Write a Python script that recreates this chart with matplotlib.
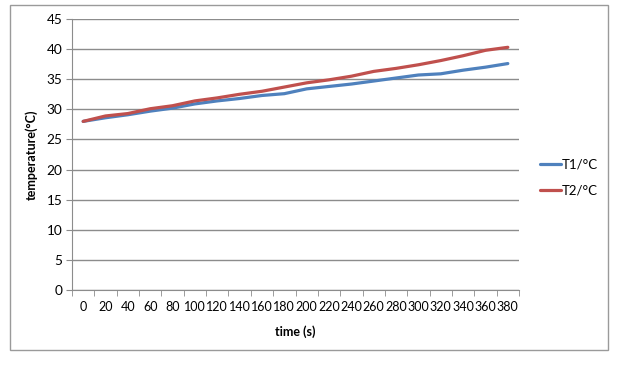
import matplotlib
matplotlib.use("Agg")
import matplotlib.pyplot as plt
import numpy as np
from matplotlib.patches import Rectangle

# data
time_s = [0, 20, 40, 60, 80, 100, 120, 140, 160, 180,
          200, 220, 240, 260, 280, 300, 320, 340, 360, 380]
t1 = [28.0, 28.6, 29.1, 29.7, 30.2, 30.9, 31.4, 31.8, 32.3, 32.6,
      33.4, 33.8, 34.2, 34.7, 35.2, 35.7, 35.9, 36.5, 37.0, 37.6]
t2 = [28.0, 28.9, 29.3, 30.1, 30.6, 31.4, 31.9, 32.5, 33.0, 33.7,
      34.4, 34.9, 35.5, 36.3, 36.8, 37.4, 38.1, 38.9, 39.8, 40.3]
y_ticks = [0, 5, 10, 15, 20, 25, 30, 35, 40, 45]

plt.rcParams['font.family'] = ['Lato', 'DejaVu Sans']

fig = plt.figure(figsize=(6.2, 3.66), dpi=100)
ax = fig.add_axes([72/620, 1 - 290/366, (519 - 72)/620, (290 - 19)/366])

# outer chart border
fig.patches.append(Rectangle((10/620, 1 - 350/366), 598/620, 345/366,
                             transform=fig.transFigure, fill=False,
                             edgecolor='#9a9a9a', linewidth=1.0))

x = np.arange(len(time_s))
ax.plot(x, t1, color='#4F81BD', linewidth=2.3, label='T1/\u00b0C', solid_capstyle='round')
ax.plot(x, t2, color='#C0504D', linewidth=2.3, label='T2/\u00b0C', solid_capstyle='round')

ax.set_xlim(-0.5, len(time_s) - 0.5)
ax.set_ylim(0, 45)
ax.set_yticks(y_ticks)
ax.set_xticks(x)
ax.set_xticklabels([str(t) for t in time_s])
ax.set_xticks(np.arange(-0.5, len(time_s)), minor=True)

ax.grid(True, axis='y', color='#8c8c8c', linewidth=1.0)
ax.set_axisbelow(True)
for side in ['top', 'right']:
    ax.spines[side].set_visible(False)
for side in ['left', 'bottom']:
    ax.spines[side].set_color('#8c8c8c')

ax.tick_params(axis='x', which='major', length=0, labelsize=9, pad=8)
ax.tick_params(axis='x', which='minor', length=4, color='#8c8c8c')
ax.tick_params(axis='y', length=4, color='#8c8c8c', labelsize=9.8, pad=3)

ax.set_xlabel('time (s)', fontsize=9, fontweight='bold', labelpad=9)
ax.set_ylabel('temperature(\u00b0C)', fontsize=9, fontweight='bold', labelpad=6)

ax.legend(loc='center left', bbox_to_anchor=(1.02, 0.415), frameon=False,
          fontsize=9.5, handlelength=1.6, handletextpad=0.1, labelspacing=1.0)

plt.savefig('out.png', dpi=100)
